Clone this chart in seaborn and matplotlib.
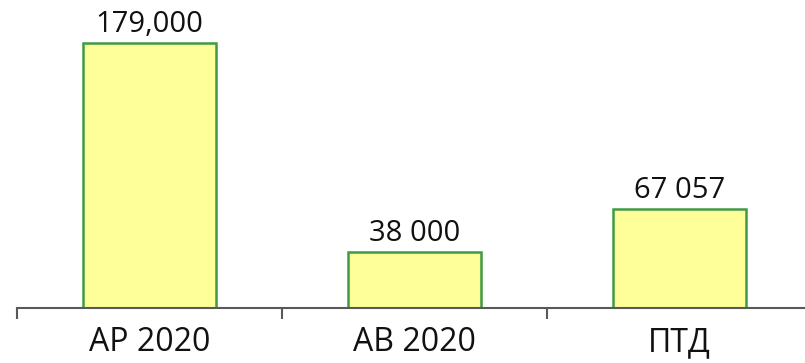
import matplotlib
matplotlib.use("Agg")
import matplotlib.pyplot as plt
import seaborn as sns

categories = ["АР 2020", "АВ 2020", "ПТД"]
values = [179000, 38000, 67057]
value_labels = ["179,000", "38 000", "67 057"]

sns.set_style("white")
plt.rcParams["font.family"] = ["Open Sans", "DejaVu Sans"]

fig = plt.figure(figsize=(8.05, 3.63), dpi=100)
ax = fig.add_axes([17 / 805, 55 / 363, 795 / 805, 308 / 363])

sns.barplot(x=categories, y=values, color="#FFFF99", saturation=1,
            edgecolor="#3E9A46", linewidth=1.8, width=0.5, ax=ax)

ax.set_xlim(-0.5, 2.5)
ax.set_ylim(0, 208000)

for side in ("top", "left", "right"):
    ax.spines[side].set_visible(False)
ax.spines["bottom"].set_color("#595959")
ax.spines["bottom"].set_linewidth(1.5)

ax.set_yticks([])
ax.set_xticks([0, 1, 2])
ax.set_xticklabels(categories, fontsize=23, color="#111111")
ax.tick_params(axis="x", which="major", bottom=True, length=0, pad=13)
ax.set_xticks([-0.5, 0.5, 1.5, 2.5], minor=True)
ax.tick_params(axis="x", which="minor", bottom=True, length=8, width=1.5,
               color="#595959")
ax.set_xlabel("")
ax.set_ylabel("")

ax.bar_label(ax.containers[0], labels=value_labels, padding=3,
             fontsize=21, color="#111111")

fig.savefig("out.png", dpi=100)
